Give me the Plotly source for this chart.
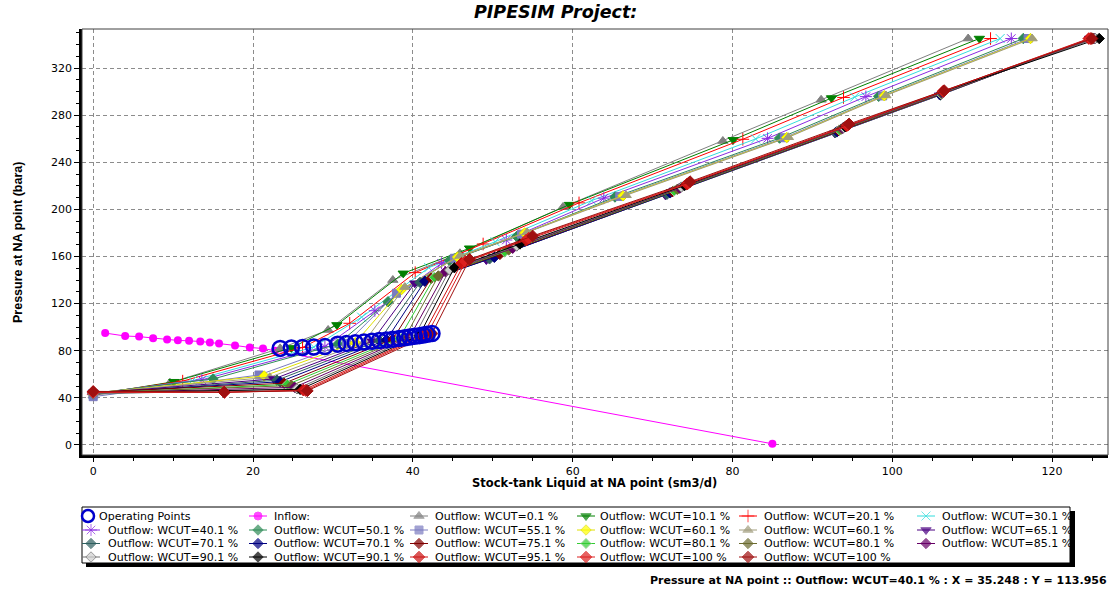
import plotly.graph_objects as go

W, H = 1114, 589

# ---------------- inflow (IPR) ----------------
inflow_x = [1.5, 4.0, 5.75, 7.5, 9.25, 10.6, 12.0, 13.4, 14.6, 15.75, 17.75, 19.6, 21.25, 22.75, 85.0]
inflow_y = [95.0, 92.5, 92.0, 90.5, 89.6, 88.8, 88.5, 87.9, 87.0, 86.2, 84.5, 82.8, 81.9, 80.0, 1.0]

# ---------------- operating points ----------------
op_x = [23.4, 24.8, 26.2, 27.6, 29.0, 30.6, 31.7, 32.8, 33.9, 34.9, 35.8, 36.7,
        37.5, 38.3, 39.0, 39.6, 40.2, 40.8, 41.3, 41.8, 42.4]
op_y = [82.0, 82.4, 82.8, 83.1, 83.5, 85.6, 86.2, 86.8, 87.4, 88.0, 88.6, 89.2,
        89.8, 90.4, 91.0, 91.6, 92.2, 92.8, 93.4, 94.0, 94.6]

# ---------------- outflow (VLP) curves ----------------
wc01_x = [0.0, 9.6, 23.4, 29.4, 37.5, 45.9, 58.8, 78.8, 91.1, 109.5]
wc01_y = [42.0, 52.8, 82.0, 97.6, 140.0, 162.7, 202.0, 258.0, 293.0, 345.0]
wc10_x = [0.0, 10.1, 24.8, 30.5, 38.8, 47.1, 59.6, 80.1, 92.4, 110.9]
wc10_y = [42.6, 53.7, 82.4, 101.9, 145.7, 167.0, 204.0, 259.0, 294.5, 345.0]
wc20_x = [0.0, 11.2, 26.2, 32.1, 40.3, 48.8, 60.8, 81.3, 93.9, 112.3]
wc20_y = [43.0, 54.2, 82.8, 103.3, 146.3, 170.6, 205.5, 259.5, 295.0, 345.0]
wc30_x = [0.0, 12.4, 27.6, 33.6, 42.0, 50.3, 62.4, 82.9, 95.3, 113.5]
wc30_y = [43.2, 54.6, 83.1, 108.5, 150.5, 172.5, 207.5, 259.8, 295.3, 345.0]
wc40_x = [0.0, 13.6, 29.0, 35.248, 43.6, 51.7, 63.9, 84.4, 96.7, 114.9]
wc40_y = [43.5, 55.3, 83.5, 113.956, 154.2, 174.0, 209.5, 260.3, 295.7, 345.0]
wc50_x = [0.0, 15.0, 30.6, 36.9, 44.6, 53.0, 65.3, 85.9, 98.3, 116.4]
wc50_y = [43.8, 56.0, 85.6, 121.6, 156.5, 177.0, 210.5, 260.5, 296.0, 345.0]
wc55_x = [0.0, 20.75, 31.7, 37.95, 45.2, 53.6, 65.9, 86.5, 98.8, 117.0]
wc55_y = [41.0, 59.4, 86.2, 128.8, 158.5, 179.0, 211.0, 260.8, 296.3, 345.0]
wc60a_x = [0.0, 21.4, 32.8, 38.6, 45.6, 54.0, 66.3, 86.8, 99.0, 117.3]
wc60a_y = [44.0, 58.6, 86.8, 132.0, 159.5, 180.0, 211.5, 261.0, 296.5, 345.0]
wc60b_x = [0.0, 22.1, 33.9, 39.0, 45.9, 54.3, 66.7, 87.0, 99.2, 117.5]
wc60b_y = [44.2, 57.5, 87.4, 134.0, 160.5, 180.5, 212.0, 261.2, 296.7, 345.0]

wc65_x = [0.0, 22.6, 34.9, 40.25, 49.2, 71.6, 92.8, 105.9, 124.7]
wc65_y = [44.0, 56.0, 88.0, 137.3, 157.0, 212.0, 264.6, 296.8, 345.0]
wc70a_x = [0.0, 23.0, 35.8, 40.9, 49.6, 71.8, 92.9, 106.0, 124.8]
wc70a_y = [43.5, 55.0, 88.6, 138.0, 158.0, 212.8, 265.2, 297.1, 345.0]
wc70b_x = [0.0, 23.4, 36.7, 41.5, 50.2, 72.2, 93.1, 106.0, 124.9]
wc70b_y = [44.2, 53.7, 89.2, 139.0, 159.3, 214.0, 266.0, 297.5, 345.0]
wc75_x = [0.0, 23.9, 37.5, 42.3, 50.9, 72.5, 93.3, 106.1, 125.0]
wc75_y = [44.8, 52.4, 89.8, 141.5, 161.8, 215.0, 266.8, 297.9, 345.0]
wc80a_x = [0.0, 24.3, 38.3, 42.7, 51.5, 72.7, 93.4, 106.1, 125.1]
wc80a_y = [43.8, 51.4, 90.4, 142.3, 164.0, 215.7, 267.3, 298.2, 345.0]
wc80b_x = [0.0, 24.8, 39.0, 43.2, 52.0, 73.1, 93.6, 106.2, 125.2]
wc80b_y = [44.5, 50.4, 91.0, 143.5, 165.6, 217.0, 268.1, 298.6, 345.0]
wc85_x = [0.0, 25.2, 39.6, 44.1, 52.5, 73.4, 93.8, 106.2, 125.3]
wc85_y = [44.0, 49.0, 91.6, 147.0, 167.0, 218.0, 268.8, 299.0, 345.0]
wc90a_x = [0.0, 25.5, 40.2, 44.6, 53.0, 73.6, 93.9, 106.3, 125.4]
wc90a_y = [43.2, 47.7, 92.2, 148.5, 168.9, 218.9, 269.4, 299.4, 345.0]
wc90b_x = [0.0, 25.9, 40.8, 45.2, 53.4, 74.0, 94.1, 106.3, 125.9]
wc90b_y = [44.6, 47.2, 92.8, 150.5, 170.6, 220.2, 270.2, 299.8, 345.0]
wc95_x = [0.0, 16.4, 26.3, 41.3, 46.1, 54.2, 74.3, 94.3, 106.4, 124.6]
wc95_y = [45.0, 44.7, 46.6, 93.4, 154.2, 174.0, 221.4, 270.9, 300.2, 345.0]
wc100a_x = [0.0, 16.4, 26.6, 41.8, 46.6, 54.5, 74.5, 94.5, 106.4, 124.8]
wc100a_y = [44.7, 44.7, 46.3, 94.0, 155.8, 175.6, 222.3, 271.7, 300.5, 345.0]
wc100b_x = [0.0, 16.4, 26.8, 42.4, 47.1, 55.0, 74.7, 94.6, 106.5, 125.0]
wc100b_y = [45.5, 44.9, 46.0, 94.6, 157.6, 177.4, 223.5, 272.5, 300.8, 345.0]

outflow_labels = ["Outflow: WCUT=0.1 %", "Outflow: WCUT=10.1 %", "Outflow: WCUT=20.1 %",
                  "Outflow: WCUT=30.1 %", "Outflow: WCUT=40.1 %", "Outflow: WCUT=50.1 %",
                  "Outflow: WCUT=55.1 %", "Outflow: WCUT=60.1 %", "Outflow: WCUT=60.1 %",
                  "Outflow: WCUT=65.1 %", "Outflow: WCUT=70.1 %", "Outflow: WCUT=70.1 %",
                  "Outflow: WCUT=75.1 %", "Outflow: WCUT=80.1 %", "Outflow: WCUT=80.1 %",
                  "Outflow: WCUT=85.1 %", "Outflow: WCUT=90.1 %", "Outflow: WCUT=90.1 %",
                  "Outflow: WCUT=95.1 %", "Outflow: WCUT=100 %", "Outflow: WCUT=100 %"]
outflow_x = [wc01_x, wc10_x, wc20_x, wc30_x, wc40_x, wc50_x, wc55_x, wc60a_x, wc60b_x,
             wc65_x, wc70a_x, wc70b_x, wc75_x, wc80a_x, wc80b_x, wc85_x, wc90a_x, wc90b_x,
             wc95_x, wc100a_x, wc100b_x]
outflow_y = [wc01_y, wc10_y, wc20_y, wc30_y, wc40_y, wc50_y, wc55_y, wc60a_y, wc60b_y,
             wc65_y, wc70a_y, wc70b_y, wc75_y, wc80a_y, wc80b_y, wc85_y, wc90a_y, wc90b_y,
             wc95_y, wc100a_y, wc100b_y]

# marker style per curve: (colour, symbol, size, outline colour)
outflow_style = [
    ("#808080", "triangle-up", 9, "#808080"),
    ("#008000", "triangle-down", 9, "#008000"),
    ("#FF0000", "cross-thin-open", 9, "#FF0000"),
    ("#33DDDD", "x-thin-open", 9, "#33DDDD"),
    ("#8A2BE2", "asterisk-open", 10, "#8A2BE2"),
    ("#2E8B57", "diamond", 8, "#2E8B57"),
    ("#7B7BC0", "square", 8, "#7B7BC0"),
    ("#FFFF00", "diamond", 8, "#E0E000"),
    ("#A09C7C", "triangle-up", 9, "#A09C7C"),
    ("#4B0082", "triangle-down", 9, "#4B0082"),
    ("#2F5F5F", "diamond", 8, "#2F5F5F"),
    ("#000080", "diamond", 8, "#000080"),
    ("#800000", "diamond", 8, "#800000"),
    ("#33CC33", "diamond", 8, "#A0D0A0"),
    ("#6B6B2F", "diamond", 8, "#6B6B2F"),
    ("#660066", "diamond", 8, "#660066"),
    ("#D0D0D0", "diamond", 8, "#707070"),
    ("#000000", "diamond", 8, "#000000"),
    ("#CC1111", "diamond", 9, "#CC1111"),
    ("#DD2020", "diamond", 9, "#DD2020"),
    ("#A01010", "diamond", 9, "#A01010"),
]

x_ticks = [0, 20, 40, 60, 80, 100, 120]
y_ticks = [0, 40, 80, 120, 160, 200, 240, 280, 320]

# plot-area placement in pixels
PL, PR, PT, PB = 82, 1108, 29, 455
LEG_TOP = 500   # top of the pixel-space strip that holds the legend

fig = go.Figure()

fig.add_trace(go.Scatter(
    x=inflow_x, y=inflow_y, mode="lines+markers",
    line=dict(color="#FF00FF", width=1),
    marker=dict(color="#FF00FF", size=8, symbol="circle"),
    showlegend=False, hoverinfo="skip"))

for xs, ys, (col, sym, sz, lc) in zip(outflow_x, outflow_y, outflow_style):
    fig.add_trace(go.Scatter(
        x=xs, y=ys, mode="lines+markers",
        line=dict(color=col if col not in ("#FFFF00", "#D0D0D0") else lc, width=1),
        marker=dict(color=col, size=sz, symbol=sym, line=dict(color=lc, width=1)),
        showlegend=False, hoverinfo="skip"))

fig.add_trace(go.Scatter(
    x=op_x, y=op_y, mode="markers",
    marker=dict(symbol="circle-open", size=15, color="#0000CC", line=dict(color="#0000CC", width=2.5)),
    showlegend=False, hoverinfo="skip"))

# ---------------- legend block (drawn on a pixel-space strip below the plot) ----------------
legend_labels = ["Operating Points", "Inflow:"] + outflow_labels
legend_style = [("#0000CC", "circle-open", 11, "#0000CC"), ("#FF00FF", "circle", 8, "#FF00FF")] + outflow_style
leg_rows = [516, 530, 543.5, 557]
leg_mark_x = [91, 258, 419, 586, 748, 926]
leg_text_x = [106, 272, 433, 598, 762, 940]

annotations = []
for k, (lab, (col, sym, sz, lc)) in enumerate(zip(legend_labels, legend_style)):
    r, c = divmod(k, 6)
    mx, ry = leg_mark_x[c], leg_rows[r]
    tx = leg_text_x[c]
    if k == 0:
        fig.add_trace(go.Scatter(
            x=[mx - 3], y=[ry], mode="markers", xaxis="x2", yaxis="y2",
            marker=dict(symbol=sym, size=12, color=col, line=dict(color=col, width=2.5)),
            showlegend=False, hoverinfo="skip"))
        tx = 97
    else:
        fig.add_trace(go.Scatter(
            x=[mx - 9, mx, mx + 9], y=[ry, ry, ry], mode="lines+markers", xaxis="x2", yaxis="y2",
            line=dict(color=lc if col in ("#FFFF00", "#D0D0D0") else col, width=1),
            marker=dict(symbol=sym, size=[0, sz, 0], color=col, line=dict(color=lc, width=1)),
            showlegend=False, hoverinfo="skip"))
    annotations.append(dict(x=tx / W, y=1 - ry / H, xref="paper", yref="paper", text=lab,
                            showarrow=False, xanchor="left", yanchor="middle",
                            font=dict(family="DejaVu Sans", size=11, color="black")))

# titles and status line
annotations += [
    dict(x=555 / W, y=1 - 12 / H, xref="paper", yref="paper", text="<b><i>PIPESIM Project:</i></b>",
         showarrow=False, xanchor="center", yanchor="middle",
         font=dict(family="DejaVu Sans", size=17.5, color="black")),
    dict(x=594 / W, y=1 - 483 / H, xref="paper", yref="paper",
         text="<b>Stock-tank Liquid at NA point (sm3/d)</b>",
         showarrow=False, xanchor="center", yanchor="middle",
         font=dict(family="DejaVu Sans", size=11.5, color="black")),
    dict(x=18 / W, y=1 - 243 / H, xref="paper", yref="paper",
         text="<b>Pressure at NA point (bara)</b>", textangle=-90,
         showarrow=False, xanchor="center", yanchor="middle",
         font=dict(family="Liberation Sans", size=12.5, color="black")),
    dict(x=1109 / W, y=1 - 580 / H, xref="paper", yref="paper",
         text="<b>Pressure at NA point :: Outflow: WCUT=40.1 % : X = 35.248 : Y = 113.956</b>",
         showarrow=False, xanchor="right", yanchor="middle",
         font=dict(family="DejaVu Sans", size=11, color="black")),
]

shapes = [
    # thin frame round the plot area
    dict(type="rect", xref="paper", yref="paper", x0=PL / W, x1=PR / W, y0=1 - PB / H, y1=1 - PT / H,
         line=dict(color="#404040", width=1), layer="above"),
    # legend shadow and box
    dict(type="rect", xref="paper", yref="paper", x0=86 / W, x1=1075 / W, y0=1 - 567 / H, y1=1 - 511 / H,
         line=dict(width=0), fillcolor="black", layer="below"),
    dict(type="rect", xref="paper", yref="paper", x0=82 / W, x1=1070 / W, y0=1 - 563 / H, y1=1 - 507 / H,
         line=dict(color="black", width=1), fillcolor="white", layer="below"),
]

grid = dict(showgrid=True, gridcolor="#8C8C8C", gridwidth=1, griddash="4px,3px")

fig.update_layout(
    width=W, height=H, autosize=False,
    margin=dict(l=0, r=0, t=0, b=0),
    paper_bgcolor="white", plot_bgcolor="rgba(0,0,0,0)",
    showlegend=False,
    xaxis=dict(domain=[PL / W, PR / W], anchor="y", range=[-1.4, 127.0],
               tickvals=x_ticks, ticktext=[str(v) for v in x_ticks],
               ticks="outside", ticklen=4, tickcolor="black",
               minor=dict(dtick=5, ticks="outside", ticklen=3, tickcolor="black", showgrid=False),
               showline=True, linecolor="black", linewidth=2.5, zeroline=False,
               tickfont=dict(family="DejaVu Sans", size=11, color="black"), **grid),
    yaxis=dict(domain=[1 - PB / H, 1 - PT / H], anchor="x", range=[-8.5, 353.1],
               tickvals=y_ticks, ticktext=[str(v) for v in y_ticks],
               ticks="outside", ticklen=5, tickcolor="black",
               minor=dict(dtick=10, ticks="outside", ticklen=3, tickcolor="black", showgrid=False),
               showline=True, linecolor="black", linewidth=2.5, zeroline=False,
               tickfont=dict(family="DejaVu Sans", size=11, color="black"), **grid),
    xaxis2=dict(domain=[0, 1], anchor="y2", range=[0, W], visible=False, fixedrange=True),
    yaxis2=dict(domain=[0, (H - LEG_TOP) / H], anchor="x2", range=[H, LEG_TOP],
                visible=False, fixedrange=True),
    annotations=annotations,
    shapes=shapes,
)

fig.write_html("out.html")
